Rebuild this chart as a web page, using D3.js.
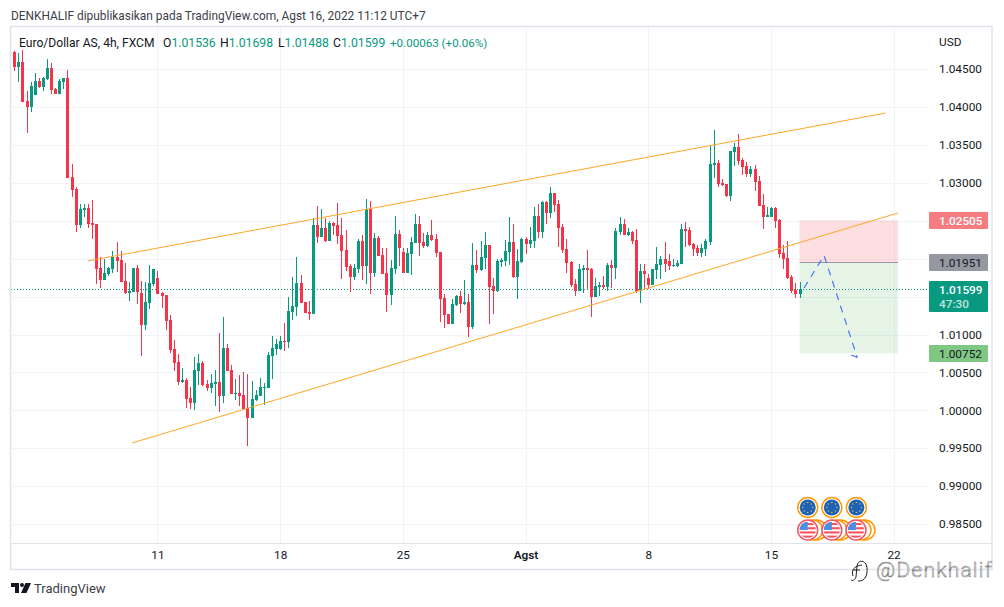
<!DOCTYPE html>
<html>
<head>
<meta charset="utf-8">
<script src="https://cdn.jsdelivr.net/npm/d3@7"></script>
<style>
    body { margin: 0; background: #fff; }
    text { font-family: Roboto, sans-serif; }
</style>
</head>
<body>
<div id="chart"></div>
<script>
// 4h candles, index 0 is the first bar on the left
var candleOpen = [
1.04727,1.04533,1.04595,1.04076,1.04001,1.0416,1.04344,1.04265,1.04375,1.04516,
1.04239,1.04177,1.04331,1.04384,1.03073,1.02919,1.02444,1.02647,1.02669,1.02466,
1.02458,1.01877,1.01719,1.01798,1.01864,1.02022,1.01983,1.01706,1.01547,1.0156,
1.01877,1.01547,1.01125,1.01415,1.01666,1.01745,1.01547,1.01521,1.01191,1.00809,
1.00637,1.00373,1.004,1.00162,1.00096,1.00518,1.00624,1.00347,1.00294,1.00347,
1.00373,1.00188,1.00822,1.00531,1.00215,1.00228,1.00202,1.0003,0.99898,1.00136,
1.00188,1.00294,1.00294,1.00716,1.00809,1.00809,1.00914,1.00901,1.01297,1.01363,
1.01679,1.01428,1.01297,1.0127,1.02445,1.02286,1.02405,1.02233,1.02471,1.02445,
1.02313,1.02115,1.01904,1.01758,1.01864,1.02233,1.01904,1.02656,1.01811,1.02273,
1.02049,1.01811,1.01521,1.01864,1.02326,1.02088,1.01811,1.02062,1.02207,1.02458,
1.0222,1.02167,1.02313,1.0226,1.02088,1.01481,1.0127,1.01138,1.01389,1.01508,
1.01402,1.01428,1.01099,1.01917,1.01851,1.02009,1.02181,1.0164,1.01574,1.01956,
1.0197,1.02088,1.0222,1.01759,1.01956,1.0226,1.02194,1.02234,1.02563,1.02352,
1.02748,1.02603,1.02867,1.02722,1.02418,1.02128,1.01956,1.01666,1.01574,1.01851,
1.01877,1.01864,1.01495,1.01627,1.01653,1.01627,1.01917,1.01877,1.02352,1.02458,
1.02313,1.02352,1.02247,1.01574,1.01838,1.01745,1.01653,1.01851,1.01917,1.01996,
1.01969,1.01904,1.01904,1.0193,1.02392,1.02378,1.02194,1.02141,1.02075,1.02128,
1.0222,1.03236,1.03262,1.02999,1.02985,1.02827,1.03408,1.03474,1.03302,1.03223,
1.03117,1.03183,1.03025,1.02708,1.0255,1.0255,1.02669,1.0251,1.02075,1.0201,
1.01758,1.01587,1.01536];
var candleHigh = [
1.04745,1.04709,1.04753,1.04212,1.04336,1.04446,1.0438,1.04401,1.04635,1.04577,
1.04248,1.04366,1.04384,1.04485,1.03249,1.02946,1.02721,1.02721,1.02721,1.02774,
1.02458,1.02018,1.01991,1.01886,1.02101,1.0222,1.02101,1.01943,1.01692,1.01877,
1.01917,1.01706,1.01693,1.01917,1.01864,1.01838,1.01561,1.01521,1.01257,1.00927,
1.00743,1.00558,1.00426,1.00307,1.00703,1.00743,1.0065,1.004,1.00479,1.00531,
1.0102,1.01231,1.00875,1.00597,1.00413,1.00466,1.00505,1.00479,1.00386,1.00268,
1.00426,1.0036,1.00769,1.0098,1.00941,1.0098,1.01152,1.01495,1.01758,1.02022,
1.01785,1.01428,1.01442,1.02537,1.02695,1.02656,1.02537,1.02497,1.02484,1.02735,
1.02537,1.02379,1.0193,1.0193,1.0226,1.02313,1.02788,1.02761,1.02339,1.02299,
1.02141,1.02141,1.01983,1.02563,1.02379,1.02141,1.02141,1.02286,1.0259,1.02563,
1.02339,1.02352,1.02511,1.02326,1.02088,1.01534,1.0127,1.01468,1.01521,1.01574,
1.01719,1.01534,1.02207,1.02115,1.02234,1.02352,1.02181,1.01745,1.01996,1.02009,
1.02247,1.0255,1.02458,1.02128,1.02273,1.02286,1.02418,1.02682,1.02722,1.02761,
1.02761,1.02946,1.02867,1.02774,1.02458,1.0226,1.0197,1.01732,1.0193,1.01917,
1.02115,1.01877,1.01745,1.01692,1.01772,1.01943,1.01983,1.02405,1.0255,1.02524,
1.02405,1.02365,1.02392,1.0193,1.0193,1.01798,1.01864,1.02154,1.02035,1.0222,
1.02062,1.01996,1.01983,1.02458,1.02484,1.02418,1.02207,1.02181,1.02194,1.0226,
1.03487,1.03698,1.03302,1.03051,1.02985,1.03421,1.03526,1.03645,1.03328,1.03276,
1.03223,1.03236,1.03091,1.02853,1.02682,1.02682,1.02682,1.02524,1.02181,1.02233,
1.01785,1.01679,1.01698];
var candleLow = [
1.04481,1.04336,1.04072,1.03663,1.0394,1.0416,1.04248,1.04217,1.04358,1.04173,
1.04177,1.04177,1.04243,1.03069,1.02818,1.02356,1.024,1.02554,1.02409,1.0226,
1.01666,1.01613,1.01719,1.01771,1.01811,1.01824,1.01692,1.01534,1.01442,1.0156,
1.01402,1.00716,1.01059,1.01336,1.0164,1.01534,1.0135,1.01059,1.0076,1.00518,
1.00334,1.0036,1.0003,1.00017,1.00004,1.00334,1.0032,1.00254,1.00228,1.00057,
0.99977,1.00096,1.00518,1.00215,1.00136,1.00057,1.00017,0.99529,0.99898,1.00118,
1.00188,1.0007,1.00294,1.00413,1.00729,1.00795,1.00782,1.00822,1.01191,1.01244,
1.01415,1.01283,1.01191,1.0127,1.02207,1.02286,1.0222,1.02233,1.02313,1.02194,
1.01732,1.01838,1.01561,1.01719,1.01811,1.01719,1.01666,1.01534,1.01758,1.02035,
1.01798,1.01297,1.01389,1.01798,1.01904,1.01811,1.01811,1.01785,1.02207,1.02035,
1.02141,1.02154,1.02233,1.02022,1.01165,1.01086,1.01138,1.01138,1.01376,1.01283,
1.01389,1.00967,1.01072,1.01811,1.01838,1.01864,1.01138,1.0127,1.01561,1.0189,
1.01904,1.01917,1.01745,1.01468,1.01943,1.02062,1.02141,1.02141,1.02273,1.02273,
1.02458,1.02537,1.02616,1.02154,1.02075,1.01811,1.01627,1.01508,1.01574,1.01547,
1.016,1.01231,1.01495,1.01508,1.016,1.01574,1.01613,1.01732,1.02313,1.02313,
1.023,1.02194,1.01547,1.01415,1.016,1.016,1.01653,1.01728,1.01732,1.01824,
1.01851,1.0189,1.0189,1.0193,1.02154,1.02167,1.02035,1.02035,1.02022,1.02035,
1.02181,1.03064,1.02946,1.02959,1.02814,1.02761,1.03223,1.03236,1.03104,1.03078,
1.03078,1.02893,1.02695,1.02392,1.0255,1.0255,1.02405,1.0201,1.01864,1.01732,
1.01547,1.01481,1.01488];
var candleClose = [
1.04533,1.04595,1.04072,1.04006,1.04278,1.04344,1.04265,1.04384,1.04516,1.04226,
1.04177,1.04344,1.04384,1.03069,1.02911,1.02444,1.02651,1.02669,1.02462,1.02444,
1.01864,1.01719,1.01811,1.01877,1.02022,1.01969,1.01692,1.01547,1.01574,1.01877,
1.01561,1.01125,1.01429,1.01679,1.01864,1.01534,1.01508,1.01178,1.00795,1.00624,
1.00373,1.004,1.00149,1.00096,1.00531,1.00624,1.00334,1.00294,1.0036,1.00373,
1.00188,1.00822,1.00518,1.00215,1.00228,1.00188,1.00017,0.99898,1.00149,1.00202,
1.00307,1.00307,1.00729,1.00822,1.00875,1.00914,1.00901,1.0131,1.01376,1.01679,
1.01415,1.01283,1.0127,1.02445,1.02286,1.02405,1.02233,1.02471,1.02431,1.02299,
1.02102,1.0189,1.01758,1.01877,1.02233,1.01904,1.02656,1.01811,1.02273,1.02035,
1.01798,1.01521,1.01877,1.02326,1.02141,1.01811,1.02075,1.0222,1.02458,1.02207,
1.02167,1.02313,1.02247,1.02075,1.01468,1.01257,1.01138,1.01402,1.01508,1.01402,
1.01428,1.01099,1.01917,1.01851,1.02022,1.02181,1.01627,1.01574,1.0197,1.01983,
1.02102,1.0222,1.01759,1.0197,1.0226,1.02194,1.02247,1.02563,1.02352,1.02748,
1.02603,1.02867,1.02708,1.02405,1.02115,1.01943,1.01653,1.01574,1.01864,1.01877,
1.01851,1.01495,1.0164,1.01653,1.01627,1.01917,1.01877,1.02365,1.02458,1.02313,
1.02352,1.02233,1.01574,1.01838,1.01798,1.01653,1.01864,1.0193,1.01996,1.0193,
1.01904,1.01917,1.01943,1.02392,1.02365,1.02181,1.02128,1.02075,1.02141,1.02233,
1.03249,1.03262,1.02985,1.02972,1.02827,1.03421,1.03474,1.03289,1.0321,1.03117,
1.03183,1.03012,1.02695,1.0255,1.02576,1.02669,1.02497,1.02062,1.01996,1.01745,
1.01574,1.01534,1.01599];

// axis ticks
var gridPrices = [1.045, 1.04, 1.035, 1.03, 1.025, 1.02, 1.015, 1.01, 1.005, 1, 0.995, 0.99, 0.985];
var labelPrices = [1.045, 1.04, 1.035, 1.03, 1.01, 1.005, 1, 0.995, 0.99, 0.985];
var timeIndex = [35, 65, 95, 125, 155, 185, 215];
var timeLabels = ["11", "18", "25", "Agst", "8", "15", "22"];

// drawings: [bar index, price]
var upperTrend = [[18, 1.0197], [213.1, 1.03922]];
var lowerTrend = [[28.8, 0.99569], [216.1, 1.02603]];
var forecastPath = [[193.1, 1.01613], [198, 1.02042], [206.1, 1.00699]];
var forecastHead = [[204.6, 1.0073], [206.1, 1.00699], [206.9, 1.00773]];

// long position tool
var positionIndex = [192, 216.1];
var positionStop = 1.02505;
var positionEntry = 1.01951;
var positionTarget = 1.00752;
var lastPrice = 1.01599;

// event icons
var euEvents = [194, 199.9, 205.9];
var usEvents = [194, 199.9, 205.8];

// legend
var legendTitle = "Euro/Dollar AS, 4h, FXCM";
var legendNames = ["O", "H", "L", "C"];
var legendValues = ["1.01536", "1.01698", "1.01488", "1.01599"];
var legendChange = "+0.00063 (+0.06%)";

var width = 1004, height = 607;
var margin = {top: 27, right: 76, bottom: 64, left: 11};
var plotRight = width - margin.right, plotBottom = height - margin.bottom;
var upColor = "#089981", downColor = "#f7334a", textColor = "#131722";
var gridColor = "#f0f3fa", frameColor = "#e0e3eb";

var candles = candleOpen.map(function(o, i) {
    return {i: i, open: o, high: candleHigh[i], low: candleLow[i], close: candleClose[i]};
});

var x = d3.scaleLinear().domain([0, 215]).range([14.3, 893.6]);
var y = d3.scaleLinear().domain([1.01, 0.985]).range([334.5, 524]);

var svg = d3.select("#chart").append("svg")
    .attr("width", width)
    .attr("height", height)
    .style("display", "block");

// grid
svg.append("g").selectAll("line").data(gridPrices).enter().append("line")
    .attr("x1", margin.left)
    .attr("x2", plotRight)
    .attr("y1", d => Math.round(y(d)) + 0.5)
    .attr("y2", d => Math.round(y(d)) + 0.5)
    .attr("stroke", gridColor);
svg.append("g").selectAll("line").data(timeIndex).enter().append("line")
    .attr("x1", d => Math.round(x(d)) + 0.5)
    .attr("x2", d => Math.round(x(d)) + 0.5)
    .attr("y1", margin.top)
    .attr("y2", plotBottom)
    .attr("stroke", gridColor);

// position boxes
var boxX = x(positionIndex[0]), boxW = x(positionIndex[1]) - x(positionIndex[0]);
svg.append("rect")
    .attr("x", boxX).attr("width", boxW)
    .attr("y", y(positionStop)).attr("height", y(positionEntry) - y(positionStop))
    .attr("fill", "#f23645").attr("fill-opacity", 0.16);
svg.append("rect")
    .attr("x", boxX).attr("width", boxW)
    .attr("y", y(positionEntry)).attr("height", y(positionTarget) - y(positionEntry))
    .attr("fill", "#4caf50").attr("fill-opacity", 0.14);
svg.append("line")
    .attr("x1", boxX).attr("x2", boxX + boxW)
    .attr("y1", Math.round(y(positionEntry)) + 0.5).attr("y2", Math.round(y(positionEntry)) + 0.5)
    .attr("stroke", "#9598a1");

// last price line
svg.append("line")
    .attr("x1", margin.left)
    .attr("x2", plotRight)
    .attr("y1", Math.round(y(lastPrice)) + 0.5)
    .attr("y2", Math.round(y(lastPrice)) + 0.5)
    .attr("stroke", upColor)
    .attr("stroke-dasharray", "1,2");

// candles
var candleG = svg.append("g").attr("shape-rendering", "crispEdges");
candleG.selectAll("rect.wick").data(candles).enter().append("rect")
    .attr("class", "wick")
    .attr("x", d => Math.round(x(d.i)) - 0.5)
    .attr("width", 1)
    .attr("y", d => Math.round(y(d.high)))
    .attr("height", d => Math.max(1, Math.round(y(d.low)) - Math.round(y(d.high))))
    .attr("fill", d => d.close >= d.open ? upColor : downColor);
candleG.selectAll("rect.body").data(candles).enter().append("rect")
    .attr("class", "body")
    .attr("x", d => Math.round(x(d.i)) - 1.5)
    .attr("width", 3)
    .attr("y", d => Math.round(y(Math.max(d.open, d.close))))
    .attr("height", d => Math.max(1, Math.round(y(Math.min(d.open, d.close))) - Math.round(y(Math.max(d.open, d.close)))))
    .attr("fill", d => d.close >= d.open ? upColor : downColor);

// trend lines
var linePath = d3.line().x(d => x(d[0])).y(d => y(d[1]));
[upperTrend, lowerTrend].forEach(function(t) {
    svg.append("path")
        .attr("d", linePath(t))
        .attr("fill", "none")
        .attr("stroke", "#ffa726")
        .attr("stroke-width", 1);
});

// forecast arrow
[forecastPath, forecastHead].forEach(function(t) {
    svg.append("path")
        .attr("d", linePath(t))
        .attr("fill", "none")
        .attr("stroke", "#2962ff")
        .attr("stroke-opacity", 0.85)
        .attr("stroke-width", 1.2)
        .attr("stroke-dasharray", "7,6");
});

// event icons
var defs = svg.append("defs");
var euY = 507.5, usY = 530;
euEvents.forEach(function(d) {
    var g = svg.append("g").attr("transform", `translate(${x(d)}, ${euY})`);
    g.append("circle").attr("r", 10).attr("fill", "#fff").attr("stroke", "#ff9800").attr("stroke-width", 1.5);
    g.append("circle").attr("r", 8).attr("fill", "#1d62b8");
    d3.range(8).forEach(function(k) {
        g.append("circle")
            .attr("cx", 5 * Math.cos(k * Math.PI / 4))
            .attr("cy", 5 * Math.sin(k * Math.PI / 4))
            .attr("r", 0.7)
            .attr("fill", "#e8c53a");
    });
});
usEvents.forEach(function(d, n) {
    var g = svg.append("g").attr("transform", `translate(${x(d)}, ${usY})`);
    [9, 5].forEach(function(dx) {
        g.append("circle").attr("cx", dx).attr("r", 10).attr("fill", "#fff").attr("stroke", "#ff9800").attr("stroke-width", 1.5);
    });
    g.append("circle").attr("r", 10).attr("fill", "#fff").attr("stroke", "#f7525f").attr("stroke-width", 1.5);
    defs.append("clipPath").attr("id", "us" + n).append("circle").attr("r", 8.2);
    var flag = g.append("g").attr("clip-path", `url(#us${n})`);
    d3.range(4).forEach(function(k) {
        flag.append("rect").attr("x", -9).attr("y", -7 + k * 4.2).attr("width", 18).attr("height", 2.1)
            .attr("fill", "#f7525f");
    });
    flag.append("rect").attr("x", -9).attr("y", -9).attr("width", 9).attr("height", 9).attr("fill", "#4a90e2");
});

// frame
svg.append("rect")
    .attr("x", margin.left - 0.5).attr("y", margin.top - 0.5)
    .attr("width", width - margin.left - 11.5).attr("height", 570 - margin.top)
    .attr("fill", "none").attr("stroke", frameColor).attr("stroke-width", 1.5);
svg.append("line")
    .attr("x1", margin.left).attr("x2", width - 12)
    .attr("y1", plotBottom + 0.5).attr("y2", plotBottom + 0.5)
    .attr("stroke", frameColor);

// axes
var yAxis = d3.axisRight(y).tickValues(labelPrices).tickFormat(d3.format(".5f")).tickSize(0).tickPadding(0);
var yG = svg.append("g").attr("transform", `translate(939, 0)`).call(yAxis);
yG.select(".domain").remove();
yG.selectAll("text").attr("font-family", "Roboto").attr("font-size", 11.8).attr("fill", textColor);

var xAxis = d3.axisBottom(x).tickValues(timeIndex).tickFormat((d, i) => timeLabels[i]).tickSize(0).tickPadding(0);
var xG = svg.append("g").attr("transform", `translate(0, ${plotBottom + 8})`).call(xAxis);
xG.select(".domain").remove();
xG.selectAll("text")
    .attr("font-family", "Roboto").attr("font-size", 11.8).attr("fill", textColor)
    .attr("font-weight", (d, i) => timeLabels[i] == "Agst" ? 600 : 400);

svg.append("text").attr("x", 939).attr("y", 46).attr("font-size", 11.8).attr("fill", textColor).text("USD");

// price tags
var tags = [
    {price: positionStop, fill: "#f77c80", color: "#fff", weight: 500},
    {price: positionEntry, fill: "#9598a1", color: textColor, weight: 400},
    {price: positionTarget, fill: "#81c784", color: textColor, weight: 400}
];
tags.forEach(function(t) {
    svg.append("rect")
        .attr("x", 929).attr("width", 59).attr("rx", 1)
        .attr("y", Math.round(y(t.price)) - 8).attr("height", 17)
        .attr("fill", t.fill);
    svg.append("text")
        .attr("x", 939).attr("y", Math.round(y(t.price)) + 4.5)
        .attr("font-size", 11.8).attr("font-weight", t.weight).attr("fill", t.color)
        .text(d3.format(".5f")(t.price));
});
svg.append("rect")
    .attr("x", 929).attr("width", 59).attr("rx", 1)
    .attr("y", 281).attr("height", 31)
    .attr("fill", upColor);
svg.append("text").attr("x", 939).attr("y", 293.5).attr("font-size", 11.8).attr("font-weight", 500).attr("fill", "#fff").text(d3.format(".5f")(lastPrice));
svg.append("text").attr("x", 939).attr("y", 307.5).attr("font-size", 11.8).attr("font-weight", 500).attr("fill", "#fff").attr("fill-opacity", 0.75).text("47:30");

// header and legend
svg.append("text").attr("x", 11).attr("y", 20).attr("font-size", 11.9).attr("fill", "#3a3e49")
    .text("DENKHALIF dipublikasikan pada TradingView.com, Agst 16, 2022 11:12 UTC+7");
svg.append("text").attr("x", 19).attr("y", 47).attr("font-size", 12.1).attr("fill", textColor).text(legendTitle);

var legendX = [163, 220, 278, 333];
legendNames.forEach(function(n, i) {
    var t = svg.append("text").attr("x", legendX[i]).attr("y", 47).attr("font-size", 12.2);
    t.append("tspan").attr("fill", textColor).text(n);
    t.append("tspan").attr("fill", upColor).text(legendValues[i]);
});
svg.append("text").attr("x", 390).attr("y", 47).attr("font-size", 11.6).attr("fill", upColor).text(legendChange);

// TradingView logo
var logo = svg.append("g").attr("transform", "translate(11, 583)").attr("fill", "#131722");
logo.append("path").attr("d", "M0 0H8V10H4V4H0Z");
logo.append("circle").attr("cx", 11).attr("cy", 2).attr("r", 2);
logo.append("path").attr("d", "M14.5 0H20L15.5 10H10Z");
svg.append("text").attr("x", 34).attr("y", 593).attr("font-size", 13).attr("fill", "#3a3e49").text("TradingView");

// watermark
svg.append("text")
    .attr("x", 876).attr("y", 577)
    .attr("font-size", 21).attr("font-weight", 300).attr("letter-spacing", 1.2)
    .attr("fill", "#fff").attr("stroke", "#6a6a6a").attr("stroke-width", 0.5)
    .text("@Denkhalif");
svg.append("path")
    .attr("d", "M862 565 C854 566 851 570 853 576 M858 581 C866 582 869 572 866 564 C863 560 858 560 857 566 L856 577 C855 580 853 581 851 580 M853 570 L860 570")
    .attr("fill", "none").attr("stroke", "#222").attr("stroke-width", 1);
</script>
</body>
</html>
